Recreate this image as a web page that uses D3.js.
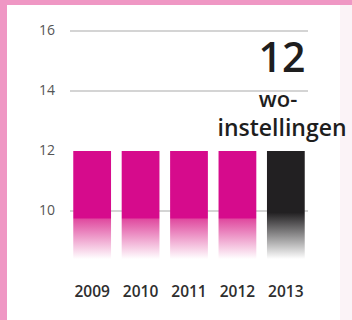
<!DOCTYPE html>
<html><head><meta charset="utf-8">
<script src="https://cdn.jsdelivr.net/npm/d3@7"></script>
<style>html,body{margin:0;padding:0;background:#fff;}svg{display:block;}</style>
</head><body>
<script>
const years = ["2009","2010","2011","2012","2013"];
const values = [12, 12, 12, 12, 12];
const yTicks = [10, 12, 14, 16];
const highlightYear = "2013";
const bigNumber = "12";
const labelLines = ["wo-", "instellingen"];

const W = 352, H = 320;
const svg = d3.select("body").append("svg").attr("width", W).attr("height", H);

// frame
svg.append("rect").attr("width", W).attr("height", H).attr("fill", "#ef97c4");
svg.append("rect").attr("x", 7).attr("y", 5).attr("width", W - 7).attr("height", H - 5).attr("fill", "#ffffff");
svg.append("rect").attr("x", 340).attr("y", 5).attr("width", 12).attr("height", H - 5).attr("fill", "#fbf3f7");

const x = d3.scaleBand().domain(years).range([66, 312]).paddingInner(0.22).paddingOuter(0.15);
const y = d3.scaleLinear().domain([8.4, 16]).range([259, 31]);

const defs = svg.append("defs");
const gp = defs.append("linearGradient").attr("id", "gPink").attr("x1", 0).attr("x2", 0).attr("y1", 0).attr("y2", 1);
gp.append("stop").attr("offset", "0%").attr("stop-color", "#d60b8c");
gp.append("stop").attr("offset", "62%").attr("stop-color", "#d60b8c");
gp.append("stop").attr("offset", "63%").attr("stop-color", "#e04a9f");
gp.append("stop").attr("offset", "100%").attr("stop-color", "#ffffff");
const gb = defs.append("linearGradient").attr("id", "gBlack").attr("x1", 0).attr("x2", 0).attr("y1", 0).attr("y2", 1);
gb.append("stop").attr("offset", "0%").attr("stop-color", "#222022");
gb.append("stop").attr("offset", "57%").attr("stop-color", "#222022");
gb.append("stop").attr("offset", "100%").attr("stop-color", "#ffffff");

// grid (the line at the bar tops is hidden by the bars)
svg.append("g").selectAll("line").data(yTicks.filter(d => d !== 12)).join("line")
  .attr("x1", 70).attr("x2", 308)
  .attr("y1", d => y(d)).attr("y2", d => y(d))
  .attr("stroke", "#a9a9a9").attr("stroke-width", 1.2);

svg.append("g").selectAll("text").data(yTicks).join("text")
  .attr("x", 55).attr("y", d => y(d)).attr("dy", "0.3em")
  .attr("text-anchor", "end")
  .attr("font-family", "Open Sans").attr("font-size", 14).attr("fill", "#555")
  .text(d => d);

// bars
svg.append("g").selectAll("rect").data(years).join("rect")
  .attr("x", d => x(d)).attr("width", x.bandwidth())
  .attr("y", (d, i) => y(values[i]))
  .attr("height", (d, i) => y(8.4) - y(values[i]))
  .attr("fill", d => d === highlightYear ? "url(#gBlack)" : "url(#gPink)");

// year labels
svg.append("g").selectAll("text").data(years).join("text")
  .attr("x", d => x(d) + x.bandwidth() / 2).attr("y", 297)
  .attr("text-anchor", "middle")
  .attr("font-family", "Open Sans").attr("font-weight", 600).attr("font-size", 15.5).attr("fill", "#2e2e2e")
  .text(d => d);

// annotation
svg.append("text").attr("x", 282).attr("y", 72).attr("text-anchor", "middle")
  .attr("font-family", "Open Sans").attr("font-weight", 600).attr("font-size", 41).attr("fill", "#1e1e1e")
  .text(bigNumber);
svg.append("text").attr("x", 278).attr("y", 107).attr("text-anchor", "middle")
  .attr("font-family", "Open Sans").attr("font-weight", 600).attr("font-size", 22).attr("fill", "#1e1e1e")
  .text(labelLines[0]);
svg.append("text").attr("x", 282).attr("y", 136).attr("text-anchor", "middle")
  .attr("font-family", "Open Sans").attr("font-weight", 600).attr("font-size", 23).attr("fill", "#1e1e1e")
  .text(labelLines[1]);
</script>
</body></html>
